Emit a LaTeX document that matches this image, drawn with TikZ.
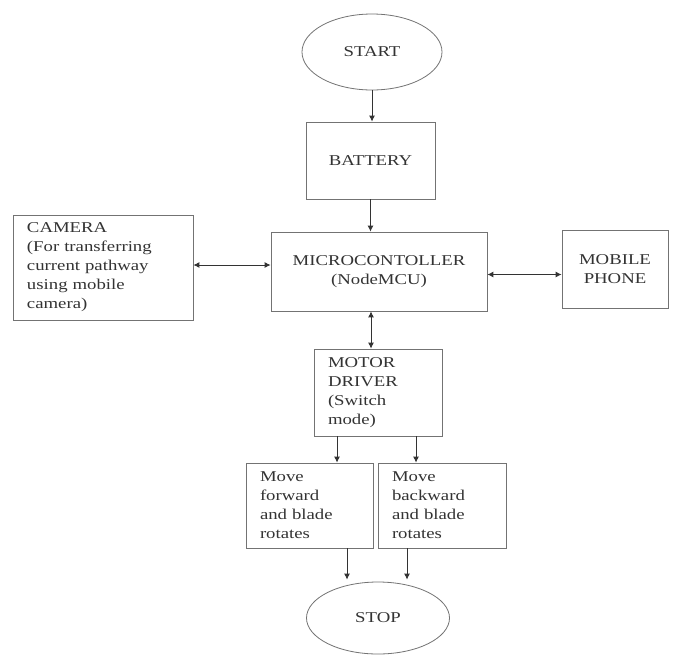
\documentclass[tikz,border=0pt]{standalone}
\usepackage{fontspec}
\setmainfont[FakeStretch=1.25]{Liberation Serif}
\usetikzlibrary{shapes.geometric,arrows.meta}
\begin{document}
\begin{tikzpicture}[x=1pt,y=-1pt,
  every node/.style={font=\fontsize{15}{19}\selectfont, text=black!80},
  boxc/.style={draw=black!55, line width=0.8pt, rectangle, align=center, inner sep=0pt},
  boxl/.style={draw=black!55, line width=0.8pt, rectangle, align=left, inner xsep=14pt, inner ysep=0pt},
  oval/.style={draw=black!55, line width=0.8pt, ellipse, inner sep=0pt},
  arr/.style={draw=black!80, line width=0.9pt, -{Latex[length=6pt,width=6pt]}},
  dbl/.style={draw=black!80, line width=0.9pt, {Latex[length=6pt,width=6pt]}-{Latex[length=6pt,width=6pt]}}
]
\useasboundingbox (0,0) rectangle (680,654);
\fill[white] (0,0) rectangle (680,654);

\node[oval, minimum width=140pt, minimum height=76pt] (start) at (372,52) {START};
\node[boxc, minimum width=129pt, minimum height=77pt] (battery) at (370.5,160.5) {BATTERY};
\node[boxc, minimum width=216pt, minimum height=79pt] (micro) at (379,271.5) {MICROCONTOLLER\\(NodeMCU)};
\node[boxc, minimum width=106pt, minimum height=78pt] (mobile) at (615,269.5) {MOBILE\\PHONE};
\node[boxl, text width=152pt, minimum height=105pt] (camera) at (103,267.5) {CAMERA\\(For transferring\\current pathway\\using mobile\\camera)};
\node[boxl, text width=100pt, minimum height=87pt] (motor) at (378,392.5) {MOTOR\\DRIVER\\(Switch\\mode)};
\node[boxl, text width=99pt, minimum height=85pt] (fwd) at (309.5,505.5) {Move\\forward\\and blade\\rotates};
\node[boxl, text width=100pt, minimum height=85pt] (bwd) at (442,505.5) {Move\\backward\\and blade\\rotates};
\node[oval, minimum width=143pt, minimum height=72pt] (stop) at (378,618) {STOP};

\draw[arr] (start.south) -- (start.south |- battery.north);
\draw[arr] (battery.south) -- (battery.south |- micro.north);
\draw[dbl] ([yshift=2.5pt]camera.east) -- ([yshift=2.5pt]camera.east -| micro.west);
\draw[dbl] ([yshift=-3pt]micro.east) -- ([yshift=-3pt]micro.east -| mobile.west);
\draw[dbl] ([xshift=-8pt]micro.south) -- ([xshift=-8pt]micro.south |- motor.north);
\draw[arr] ([xshift=-41pt]motor.south) -- ([xshift=-41pt]motor.south |- fwd.north);
\draw[arr] ([xshift=38pt]motor.south) -- ([xshift=38pt]motor.south |- bwd.north);
\draw[arr] ([xshift=37.5pt]fwd.south) -- ([xshift=37.5pt,yshift=2pt]fwd.south |- stop.north);
\draw[arr] ([xshift=-35pt]bwd.south) -- ([xshift=-35pt,yshift=2pt]bwd.south |- stop.north);
\end{tikzpicture}
\end{document}
